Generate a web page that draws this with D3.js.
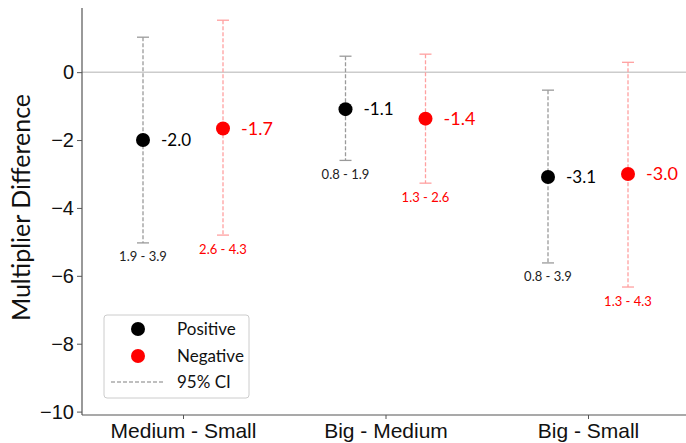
<!DOCTYPE html>
<html>
<head>
<meta charset="utf-8">
<script src="https://cdn.jsdelivr.net/npm/d3@7"></script>
<style>
body{margin:0;background:#fff;}
svg{display:block;font-family:"Lato","Liberation Sans",sans-serif;}
</style>
</head>
<body>
<svg id="chart" width="686" height="443"></svg>
<script>
// categories and series values
var categories = ["Medium - Small", "Big - Medium", "Big - Small"];
var posMean = [-2.0, -1.09, -3.09];
var posLow = [-5.03, -2.6, -5.62];
var posHigh = [1.03, 0.47, -0.53];
var posRange = ["1.9 - 3.9", "0.8 - 1.9", "0.8 - 3.9"];
var negMean = [-1.66, -1.37, -3.0];
var negLow = [-4.8, -3.27, -6.33];
var negHigh = [1.53, 0.53, 0.29];
var negRange = ["2.6 - 4.3", "1.3 - 2.6", "1.3 - 4.3"];
var yTicks = [0, -2, -4, -6, -8, -10];

var svg = d3.select("#chart");
var margin = {left: 82, right: 0, top: 8, bottom: 28};
var W = 686, H = 443;

var y = d3.scaleLinear().domain([-10.1, 1.89]).range([H - margin.bottom, margin.top]);
var x = d3.scalePoint().domain(categories).range([183, 588]);
var offset = 40;

// zero line
svg.append("line").attr("x1", margin.left).attr("x2", W)
	.attr("y1", y(0)).attr("y2", y(0))
	.attr("stroke", "#cccccc").attr("stroke-width", 1.5);

// axes
var yAxis = svg.append("g").attr("transform", "translate(" + margin.left + ",0)")
	.call(d3.axisLeft(y).tickValues(yTicks).tickSize(5).tickPadding(3).tickFormat(function(d){ return d < 0 ? "\u2212" + Math.abs(d) : d; }));
var xAxis = svg.append("g").attr("transform", "translate(0," + (H - margin.bottom) + ")")
	.call(d3.axisBottom(x).tickSize(4).tickPadding(4));
xAxis.select(".domain").attr("d", "M" + margin.left + ",0H" + W);
[yAxis, xAxis].forEach(function(a){
	a.select(".domain").attr("stroke", "#555").attr("stroke-width", 1.2);
	a.selectAll(".tick line").attr("stroke", "#555");
	a.selectAll("text").attr("fill", "#111").style("font-size", "20px");
});
yAxis.select(".domain").attr("d", "M0," + margin.top + "V" + (H - margin.bottom));
xAxis.selectAll("text").style("font-size", "21px");

svg.append("text").attr("transform", "translate(30," + ((margin.top + H - margin.bottom) / 2 - 4) + ") rotate(-90)")
	.attr("text-anchor", "middle").style("font-size", "25px").attr("fill", "#111")
	.text("Multiplier Difference");

// draws one series: dashed CI, caps, dot, value and range labels
function drawSeries(means, lows, highs, ranges, dx, dotColor, ciColor, labelSize){
	var g = svg.append("g");
	categories.forEach(function(c, i){
		var cx = x(c) + dx;
		g.append("line").attr("x1", cx).attr("x2", cx).attr("y1", y(highs[i])).attr("y2", y(lows[i]))
			.attr("stroke", ciColor).attr("stroke-width", 1.3).attr("stroke-dasharray", "4,2");
		[highs[i], lows[i]].forEach(function(v){
			g.append("line").attr("x1", cx - 6).attr("x2", cx + 6).attr("y1", y(v)).attr("y2", y(v))
				.attr("stroke", ciColor).attr("stroke-width", 1.3);
		});
		g.append("circle").attr("cx", cx).attr("cy", y(means[i])).attr("r", 7).attr("fill", dotColor);
		g.append("text").attr("x", cx + 18).attr("y", y(means[i])).attr("dy", "0.35em")
			.style("font-size", labelSize + "px").attr("fill", dotColor).text(means[i].toFixed(1));
		g.append("text").attr("x", cx).attr("y", y(lows[i]) + 14).attr("dy", "0.35em")
			.attr("text-anchor", "middle").style("font-size", "13px").attr("fill", dotColor === "black" ? "#222" : "red")
			.text(ranges[i]);
	});
}
drawSeries(posMean, posLow, posHigh, posRange, -offset, "black", "#9a9a9a", 17);
drawSeries(negMean, negLow, negHigh, negRange, offset, "red", "#ffa0a0", 18);

// legend
var lg = svg.append("g").attr("transform", "translate(104,315)");
lg.append("rect").attr("width", 145).attr("height", 83).attr("rx", 3)
	.attr("fill", "white").attr("stroke", "#cccccc");
var legendItems = [{label: "Positive", color: "black"}, {label: "Negative", color: "red"}];
legendItems.forEach(function(d, i){
	lg.append("circle").attr("cx", 34).attr("cy", 14 + i * 27).attr("r", 7).attr("fill", d.color);
	lg.append("text").attr("x", 73).attr("y", 14 + i * 27).attr("dy", "0.35em")
		.style("font-size", "17px").attr("fill", "#111").text(d.label);
});
lg.append("line").attr("x1", 7).attr("x2", 60).attr("y1", 67).attr("y2", 67)
	.attr("stroke", "#aaaaaa").attr("stroke-width", 1.3).attr("stroke-dasharray", "4,2");
lg.append("text").attr("x", 73).attr("y", 67).attr("dy", "0.35em")
	.style("font-size", "17px").attr("fill", "#111").text("95% CI");
</script>
</body>
</html>
